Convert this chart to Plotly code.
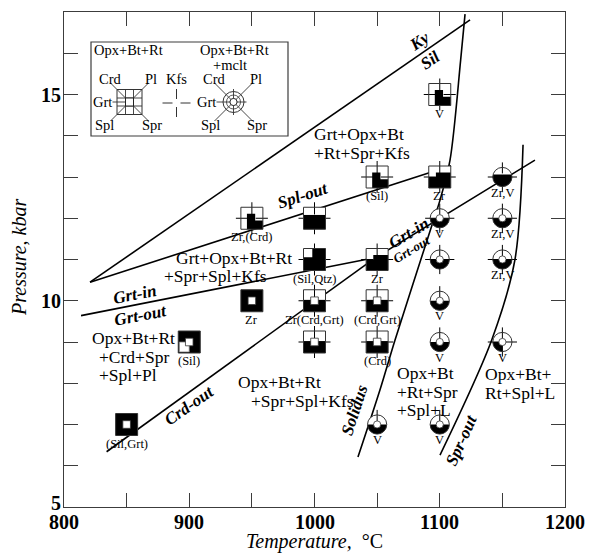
import math
import plotly.graph_objects as go

# ---------------- page / plot geometry ----------------
# The page body has an 8 px margin, so the figure is drawn 8 px smaller.
OFF = 8
W, H = 593, 556
FW, FH = W - OFF, H - OFF
PL, PR, PT, PB = 64, 565, 12, 507          # plot-area edges in page pixels
ML, MT = PL - OFF, PT - OFF
MR, MB = FW + OFF - PR, FH + OFF - PB
PW, PH = PR - PL, PB - PT

def px(xp):
    return (xp - PL) / PW

def py(yp):
    return (PB - yp) / PH

SERIF = "Liberation Serif"
FRAME = "#3c3c3c"

# ---------------- axis data ----------------
x_range = [800, 1200]
y_range = [5, 17]
x_tick_vals = [800, 850, 900, 950, 1000, 1050, 1100, 1150, 1200]
x_label_vals = [800, 900, 1000, 1100, 1200]
y_tick_vals = list(range(5, 18))
y_label_vals = [5, 10, 15]

# ---------------- boundary curves (T degC, P kbar) ----------------
kysil_T = [820.8, 1124.2]
kysil_P = [10.45, 16.81]
splout_T = [820.8, 1109.0]
splout_P = [10.45, 13.27]
grt_T = [813.6, 1049.0, 1176.0]
grt_P = [9.64, 11.05, 13.41]
crdout_T = [834.0, 1049.0]
crdout_P = [6.34, 11.05]
solidus_T = [1034.7, 1052.3, 1064.3, 1094.6, 1100.2, 1108.2, 1116.7, 1120.2]
solidus_P = [6.21, 7.84, 9.05, 11.91, 12.44, 13.41, 15.84, 16.95]
sprout_T = [1100.2, 1141.5, 1160.0, 1166.5]
sprout_P = [6.26, 9.05, 10.99, 13.78]

# ---------------- experiments ----------------
sample_T = [850, 900, 950, 950, 1000, 1000, 1000, 1000, 1050, 1050, 1050, 1050, 1100, 1100,
            1100, 1100, 1100, 1100, 1100, 1050, 1150, 1150, 1150, 1150]
sample_P = [7, 9, 10, 12, 12, 11, 10, 9, 13, 11, 10, 9, 15, 13,
            12, 11, 10, 9, 7, 7, 13, 12, 11, 9]
sample_kind = ["sq"] * 14 + ["ci"] * 10
sample_fill = ["full", "full_bl", "full", "c_br", "bottom", "not_tl", "bottom_c", "bottom_c",
               "c_br", "bottom_n", "bottom_c", "bottom_c", "c_br", "bottom_n",
               "lower", "lower", "lower", "lower", "lower", "lower", "lower_c", "lower", "lower", "bl"]
sample_kfs = ["none", "none", "none", "full", "full", "full", "full", "full", "full", "full",
              "full", "full", "full", "full",
              "full", "full", "top", "top", "top", "top", "full", "full", "full", "full"]
sample_label = ["(Sil,Grt)", "(Sil)", "Zr", "Zr,(Crd)", "", "(Sil,Qtz)", "Zr(Crd,Grt)", "",
                "(Sil)", "Zr", "(Crd,Grt)", "(Crd)", "V", "Zr",
                "V", "", "V", "V", "V", "V", "Zr,V", "Zr,V", "Zr,V", "V"]

# ---------------- figure ----------------
fig = go.Figure()

def add_curve(T, P, spline=False):
    fig.add_trace(go.Scatter(
        x=T, y=P, mode="lines", hoverinfo="skip", showlegend=False,
        line=dict(color="black", width=1.6,
                  shape="spline" if spline else "linear", smoothing=0.9)))

add_curve(kysil_T, kysil_P)
add_curve(splout_T, splout_P)
add_curve(grt_T, grt_P)
add_curve(crdout_T, crdout_P)
add_curve(solidus_T, solidus_P, spline=True)
add_curve(sprout_T, sprout_P, spline=True)

shapes = []

def pshape(T, P, **kw):
    d = dict(xref="x", yref="y", xsizemode="pixel", ysizemode="pixel",
             xanchor=T, yanchor=P, layer="above")
    d.update(kw)
    shapes.append(d)

def poly(pts):
    return "M " + " L ".join(f"{x:.2f},{y:.2f}" for x, y in pts) + " Z"

def seg(pts):
    return "M " + " L ".join(f"{x:.2f},{y:.2f}" for x, y in pts)

def arc(r, a0, a1, n=24):
    return [(r * math.cos(math.radians(a0 + (a1 - a0) * k / n)),
             r * math.sin(math.radians(a0 + (a1 - a0) * k / n))) for k in range(n + 1)]

SQ_FILL = {
    "full": [[(-1, -1), (1, -1), (1, 1), (-1, 1)]],
    "full_bl": [[(-1, -1), (1, -1), (1, 1), (-1, 1)]],
    "c_br": [[(-0.45, 0.42), (0.3, 0.42), (0.3, -0.2), (1, -0.2), (1, -1), (-0.45, -1)]],
    "bottom": [[(-1, -1), (1, -1), (1, 0.3), (-1, 0.3)]],
    "bottom_n": [[(-1, -1), (1, -1), (1, 0.4), (-0.35, 0.4), (-0.35, 0.0), (-1, 0.0)]],
    "not_tl": [[(-1, -1), (1, -1), (1, 1), (-0.2, 1), (-0.2, 0.2), (-1, 0.2)]],
    "bottom_c": [[(-1, -1), (1, -1), (1, 0.08), (-1, 0.08)]],
}
SQ_BLACK_CENTER = {"c_br", "bottom", "bottom_n", "not_tl"}

def square_symbol(T, P, fill, kfs):
    h, i, ext = 11, 3.8, 5
    pshape(T, P, type="rect", x0=-h, x1=h, y0=-h, y1=h, fillcolor="white", line=dict(width=0))
    for pts in SQ_FILL[fill]:
        pshape(T, P, type="path", path=poly([(x * h, y * h) for x, y in pts]),
               fillcolor="black", line=dict(width=0))
    if fill == "full_bl":
        pshape(T, P, type="rect", x0=-h + 1, x1=0, y0=-h + 1, y1=0, fillcolor="white",
               line=dict(color="#777777", width=0.8))
    if kfs == "full":
        for pts in ([(0, h + ext), (0, i)], [(0, -h - ext), (0, -i)],
                    [(-h - ext, 0), (-i, 0)], [(h + ext, 0), (i, 0)]):
            pshape(T, P, type="path", path=seg(pts), line=dict(color="black", width=1))
    if fill not in SQ_BLACK_CENTER:
        pshape(T, P, type="rect", x0=-i, x1=i, y0=-i, y1=i, fillcolor="white",
               line=dict(color="#333333", width=0.8))
    pshape(T, P, type="rect", x0=-h, x1=h, y0=-h, y1=h, line=dict(color="#333333", width=1))

def circle_symbol(T, P, fill, kfs):
    R, ri, ext = 9.6, 3.6, 5
    pshape(T, P, type="circle", x0=-R, x1=R, y0=-R, y1=R, fillcolor="white", line=dict(width=0))
    if fill == "lower":
        pshape(T, P, type="path", path=poly(arc(R, 180, 360)), fillcolor="black", line=dict(width=0))
    elif fill == "lower_c":
        a = math.degrees(math.asin(0.25))
        pshape(T, P, type="path", path=poly(arc(R, 180 - a, 360 + a)), fillcolor="black",
               line=dict(width=0))
    elif fill == "bl":
        pshape(T, P, type="path", path=poly([(0, 0)] + arc(R, 180, 270)), fillcolor="black",
               line=dict(width=0))
    if kfs in ("full", "top"):
        segs = [[(0, R + ext), (0, ri)]]
        if kfs == "full":
            segs += [[(0, -R - ext), (0, -ri)], [(-R - ext, 0), (-ri, 0)], [(R + ext, 0), (ri, 0)]]
        for pts in segs:
            pshape(T, P, type="path", path=seg(pts), line=dict(color="black", width=1))
    if fill != "lower_c":
        pshape(T, P, type="circle", x0=-ri, x1=ri, y0=-ri, y1=ri, fillcolor="white",
               line=dict(color="#333333", width=0.8))
    pshape(T, P, type="circle", x0=-R, x1=R, y0=-R, y1=R, line=dict(color="#333333", width=1))

annotations = []

def note(xp, yp, text, size=17.5, angle=0, xanchor="center", bold_italic=False, color="black"):
    if bold_italic:
        text = f"<b><i>{text}</i></b>"
    annotations.append(dict(x=px(xp), y=py(yp), xref="paper", yref="paper", text=text,
                            showarrow=False, textangle=angle, xanchor=xanchor, yanchor="middle",
                            borderpad=0,
                            font=dict(family=SERIF, size=size, color=color)))

for T, P, kind, fill, kfs, lab in zip(sample_T, sample_P, sample_kind, sample_fill,
                                     sample_kfs, sample_label):
    if kind == "sq":
        square_symbol(T, P, fill, kfs)
    else:
        circle_symbol(T, P, fill, kfs)
    if lab:
        annotations.append(dict(x=T, y=P, xref="x", yref="y", text=lab, showarrow=False,
                                xanchor="center", yanchor="middle", borderpad=0,
                                yshift=(-19 if kind == "sq" else -15.5),
                                font=dict(family=SERIF, size=12.5, color="black")))

# ---------------- field labels ----------------
note(313, 134, "Grt+Opx+Bt", xanchor="left")
note(313, 153, "+Rt+Spr+Kfs", xanchor="left")
note(175, 258, "Grt+Opx+Bt+Rt", xanchor="left")
note(163, 276, "+Spr+Spl+Kfs", xanchor="left")
note(91, 338, "Opx+Bt+Rt", xanchor="left")
note(98, 357, "+Crd+Spr", xanchor="left")
note(98, 375, "+Spl+Pl", xanchor="left")
note(237, 382, "Opx+Bt+Rt", xanchor="left")
note(250, 401, "+Spr+Spl+Kfs", xanchor="left")
note(396, 373, "Opx+Bt", xanchor="left")
note(396, 392, "+Rt+Spr", xanchor="left")
note(396, 410, "+Spl+L", xanchor="left")
note(484, 374, "Opx+Bt+", xanchor="left")
note(484, 393, "Rt+Spl+L", xanchor="left")

# ---------------- boundary names ----------------
note(419, 41, "Ky", 17, -34.6, bold_italic=True)
note(430, 61, "Sil", 17, -34.6, bold_italic=True)
note(303, 196, "Spl-out", 17, -18, bold_italic=True)
note(134, 294, "Grt-in", 17, -11, bold_italic=True)
note(140, 315, "Grt-out", 17, -11, bold_italic=True)
note(408, 233, "Grt-in", 17, -31, bold_italic=True)
note(411, 249, "Grt-out", 13, -31, bold_italic=True)
note(189, 405, "Crd-out", 17, -35, bold_italic=True)
note(354, 410, "Solidus", 17, -72, bold_italic=True)
note(461, 440, "Spr-out", 17, -66, bold_italic=True)

# ---------------- legend box ----------------
def pT(xp):
    return x_range[0] + (xp - PL) / PW * (x_range[1] - x_range[0])

def pP(yp):
    return y_range[0] + (PB - yp) / PH * (y_range[1] - y_range[0])

shapes.append(dict(type="rect", xref="paper", yref="paper", x0=px(91), x1=px(288),
                   y0=py(136), y1=py(42), line=dict(color=FRAME, width=1.2),
                   fillcolor="white", layer="above"))
LS = 14.5
note(128, 50, "Opx+Bt+Rt", LS)
note(234, 50, "Opx+Bt+Rt", LS)
note(230, 65, "+mclt", LS)

# left legend square
cT, cP = pT(129.5), pP(102)
hs, ins = 12.5, 4
pshape(cT, cP, type="rect", x0=-hs, x1=hs, y0=-hs, y1=hs, fillcolor="white",
       line=dict(color="#333333", width=1))
for pts in ([(-ins, -hs), (-ins, hs)], [(ins, -hs), (ins, hs)], [(-hs, -ins), (hs, -ins)],
            [(-hs, ins), (hs, ins)], [(-19, 19), (-ins, ins)], [(19, 19), (ins, ins)],
            [(-19, -19), (-ins, -ins)], [(19, -19), (ins, -ins)], [(-17, 0), (-ins, 0)]):
    pshape(cT, cP, type="path", path=seg(pts), line=dict(color="#333333", width=0.9))
pshape(cT, cP, type="rect", x0=-ins, x1=ins, y0=-ins, y1=ins, fillcolor="white",
       line=dict(color="#222222", width=1))
note(110, 79, "Crd", LS)
note(151, 79, "Pl", LS)
note(102, 102, "Grt", LS)
note(104, 125, "Spl", LS)
note(152, 125, "Spr", LS)

# Kfs cross
kT, kP = pT(176.5), pP(103)
for pts in ([(0, 4), (0, 14)], [(0, -4), (0, -14)], [(-4, 0), (-14, 0)], [(4, 0), (14, 0)]):
    pshape(kT, kP, type="path", path=seg(pts), line=dict(color="#333333", width=1))
note(176, 79, "Kfs", LS)

# right legend circle
oT, oP = pT(233.5), pP(102)
Rl, rl = 10.5, 3.6
pshape(oT, oP, type="circle", x0=-Rl, x1=Rl, y0=-Rl, y1=Rl, fillcolor="white",
       line=dict(color="#333333", width=1))
for pts in ([(0, -13), (0, 13)], [(-17, 0), (13, 0)], [(-19, 19), (-rl * 0.7, rl * 0.7)],
            [(19, 19), (rl * 0.7, rl * 0.7)], [(-19, -19), (-rl * 0.7, -rl * 0.7)],
            [(19, -19), (rl * 0.7, -rl * 0.7)]):
    pshape(oT, oP, type="path", path=seg(pts), line=dict(color="#333333", width=0.9))
pshape(oT, oP, type="circle", x0=-7, x1=7, y0=-7, y1=7, line=dict(color="#333333", width=0.8))
pshape(oT, oP, type="circle", x0=-rl, x1=rl, y0=-rl, y1=rl, fillcolor="white",
       line=dict(color="#222222", width=1))
note(214, 79, "Crd", LS)
note(256, 79, "Pl", LS)
note(206, 102, "Grt", LS)
note(210, 125, "Spl", LS)
note(257, 125, "Spr", LS)

# ---------------- tick labels ----------------
for v in x_label_vals:
    annotations.append(dict(x=v, y=0, xref="x", yref="paper", text=f"<b>{v}</b>",
                            showarrow=False, xanchor="center", yanchor="top", yshift=-3,
                            borderpad=0,
                            font=dict(family=SERIF, size=20, color="black")))
for v in y_label_vals:
    annotations.append(dict(x=0, y=v, xref="paper", yref="y", text=f"<b>{v}</b>",
                            showarrow=False, xanchor="right", yanchor="middle", xshift=-2,
                            yshift=(4 if v == y_range[0] else 0), borderpad=0,
                            font=dict(family=SERIF, size=20, color="black")))

# ---------------- axis titles ----------------
annotations.append(dict(x=px(314), y=py(541), xref="paper", yref="paper",
                        text="<i>Temperature,</i>  °C", showarrow=False,
                        xanchor="center", yanchor="middle", borderpad=0,
                        font=dict(family=SERIF, size=20, color="black")))
annotations.append(dict(x=px(19), y=py(258), xref="paper", yref="paper",
                        text="<i>Pressure, kbar</i>", showarrow=False, textangle=-90,
                        xanchor="center", yanchor="middle", borderpad=0,
                        font=dict(family=SERIF, size=20, color="black")))

axis_common = dict(showgrid=False, zeroline=False, showline=True, linecolor=FRAME, linewidth=1.2,
                   mirror="ticks", ticks="inside", ticklen=14, tickwidth=1.1, tickcolor=FRAME,
                   showticklabels=False)

fig.update_layout(
    width=FW, height=FH, margin=dict(l=ML, r=MR, t=MT, b=MB, autoexpand=False),
    paper_bgcolor="white", plot_bgcolor="white", showlegend=False,
    xaxis=dict(range=x_range, tickmode="array", tickvals=x_tick_vals, **axis_common),
    yaxis=dict(range=y_range, tickmode="array", tickvals=y_tick_vals, **axis_common),
    shapes=shapes, annotations=annotations,
)

fig.write_html("out.html")
